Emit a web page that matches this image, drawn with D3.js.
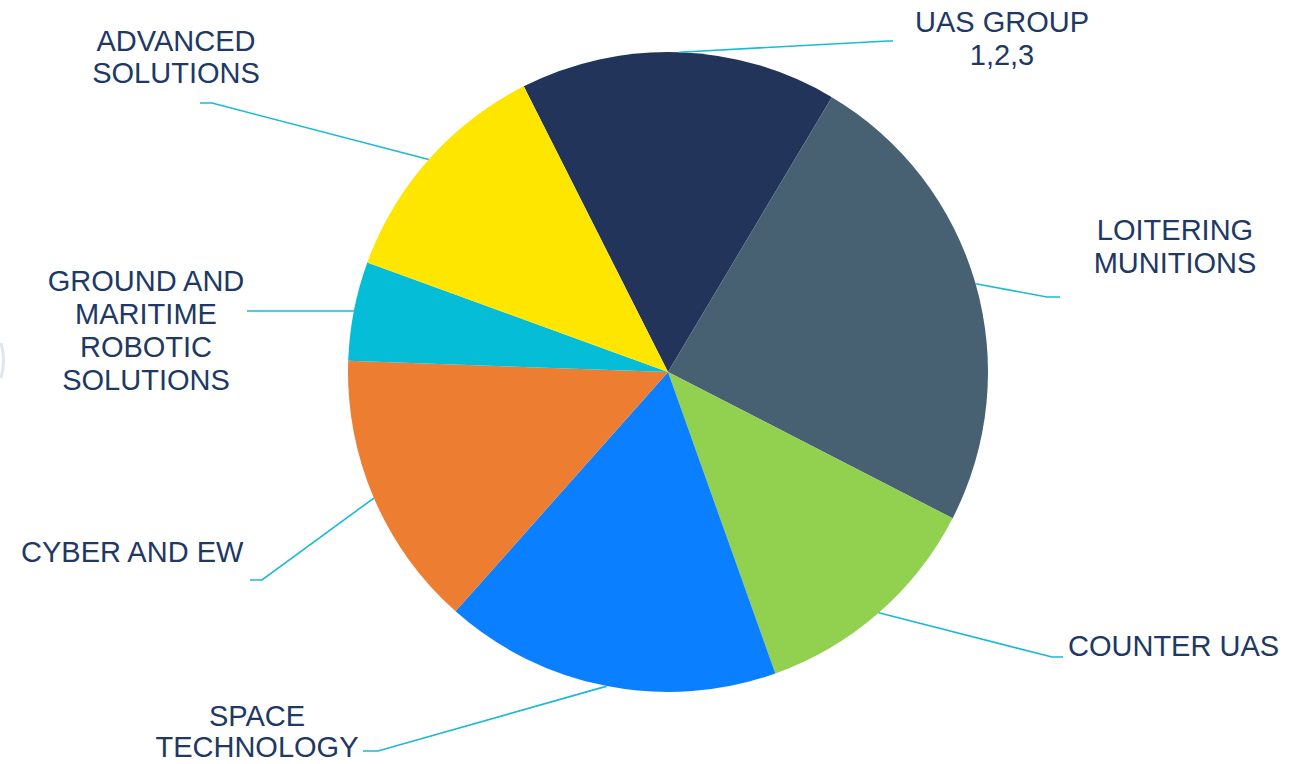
<!DOCTYPE html>
<html>
<head>
<meta charset="utf-8">
<script src="https://cdn.jsdelivr.net/npm/d3@7/dist/d3.min.js"></script>
<style>
  html, body { margin: 0; padding: 0; background: #ffffff; }
  svg { display: block; }
</style>
</head>
<body>
<svg id="chart" width="1294" height="764"></svg>
<script>
// ---- data ----
const categories = [
  "UAS GROUP 1,2,3",
  "LOITERING MUNITIONS",
  "COUNTER UAS",
  "SPACE TECHNOLOGY",
  "CYBER AND EW",
  "GROUND AND MARITIME ROBOTIC SOLUTIONS",
  "ADVANCED SOLUTIONS"
];
const values = [16, 24, 12, 17, 14, 5, 12];
const labelLines = [
  ["UAS GROUP", "1,2,3"],
  ["LOITERING", "MUNITIONS"],
  ["COUNTER UAS"],
  ["SPACE", "TECHNOLOGY"],
  ["CYBER AND EW"],
  ["GROUND AND", "MARITIME", "ROBOTIC", "SOLUTIONS"],
  ["ADVANCED", "SOLUTIONS"]
];
const colors = ["#22345A", "#476173", "#92D050", "#0A7FFF", "#ED7D31", "#05BDD7", "#FFE600"];

// ---- layout (label placement) ----
const layout = [
  { elbow: [888, 41],  end: [893, 41],  anchor: "middle", x: 1002, y: 32,  lh: 33 },
  { elbow: [1047, 297], end: [1060, 297], anchor: "middle", x: 1175, y: 240, lh: 33 },
  { elbow: [1052, 657], end: [1063, 657], anchor: "start",  x: 1068, y: 656, lh: 33 },
  { elbow: [378, 751],  end: [363, 751],  anchor: "middle", x: 257,  y: 726, lh: 31 },
  { elbow: [262, 580],  end: [250, 580],  anchor: "start",  x: 21,   y: 562, lh: 33 },
  { elbow: [260, 311],  end: [247, 311],  anchor: "middle", x: 146,  y: 291, lh: 33 },
  { elbow: [212, 103],  end: [200, 103],  anchor: "middle", x: 176,  y: 51,  lh: 32 }
];

const cx = 668, cy = 372, R = 320;
const startDeg = -26.8;
const svg = d3.select("#chart");

// faint artifact arc at left edge
svg.append("path")
  .attr("d", "M1,343 Q6,360 1,378")
  .attr("fill", "none")
  .attr("stroke", "#dfe6ee")
  .attr("stroke-width", 3);

const pie = d3.pie().sort(null).value(d => d)
  .startAngle(startDeg * Math.PI / 180)
  .endAngle(startDeg * Math.PI / 180 + 2 * Math.PI);
const arcs = pie(values);
const arc = d3.arc().innerRadius(0).outerRadius(R);
const edgeArc = d3.arc().innerRadius(R).outerRadius(R);

const g = svg.append("g").attr("transform", `translate(${cx},${cy})`);
g.selectAll("path.slice")
  .data(arcs)
  .enter().append("path")
  .attr("class", "slice")
  .attr("d", arc)
  .attr("fill", (d, i) => colors[i]);

// leader lines
svg.selectAll("polyline.leader")
  .data(arcs)
  .enter().append("polyline")
  .attr("class", "leader")
  .attr("points", (d, i) => {
    const c = edgeArc.centroid(d);
    const p0 = [cx + c[0], cy + c[1]];
    return [p0, layout[i].elbow, layout[i].end].map(p => p.join(",")).join(" ");
  })
  .attr("fill", "none")
  .attr("stroke", "#1BBAD2")
  .attr("stroke-width", 1.6);

// labels
labelLines.forEach((lines, i) => {
  const L = layout[i];
  const t = svg.append("text")
    .attr("text-anchor", L.anchor)
    .attr("font-family", "Liberation Sans, Arial, sans-serif")
    .attr("font-size", 29)
    .attr("fill", "#203864");
  lines.forEach((s, j) => {
    t.append("tspan").attr("x", L.x).attr("y", L.y + j * L.lh).text(s);
  });
});
</script>
</body>
</html>
